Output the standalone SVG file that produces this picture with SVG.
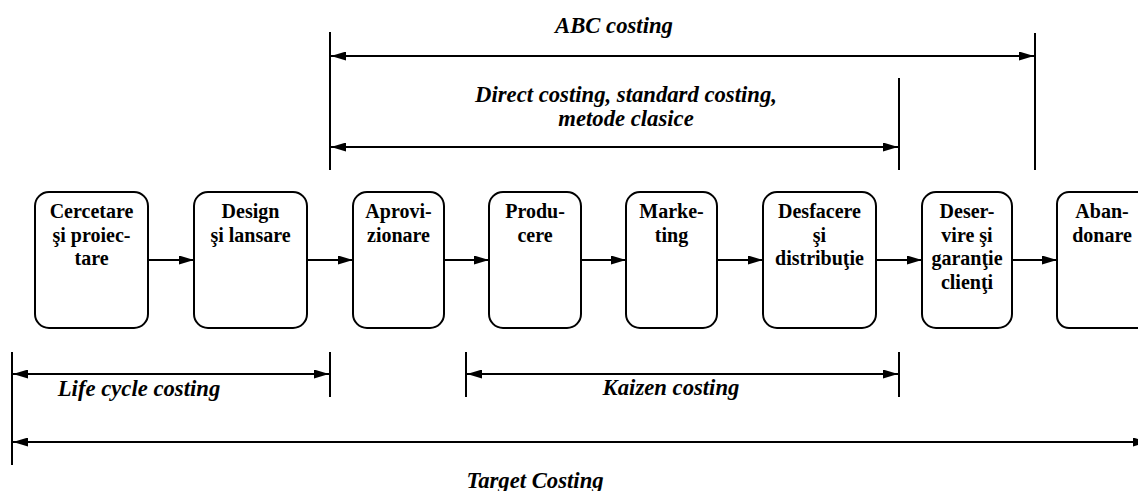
<svg xmlns="http://www.w3.org/2000/svg" width="1138" height="491" viewBox="0 0 1138 491">
<style>
.box{fill:#fff;stroke:#000;stroke-width:2}
.bt{font-family:"Liberation Serif","Times New Roman",serif;font-weight:bold;font-size:20px;text-anchor:middle;fill:#000}
.lbl{font-family:"Liberation Serif","Times New Roman",serif;font-weight:bold;font-style:italic;font-size:22.7px;text-anchor:middle;fill:#000}
.ln{stroke:#000;stroke-width:2;fill:none}
.ar{stroke:#000;stroke-width:2;fill:none;marker-end:url(#ah)}
.dar{stroke:#000;stroke-width:2;fill:none;marker-end:url(#ah);marker-start:url(#ah)}
</style>
<defs>
<marker id="ah" markerUnits="userSpaceOnUse" markerWidth="15" markerHeight="9" refX="15" refY="4.5" orient="auto-start-reverse">
<path d="M0,0 L15,4.5 L0,9 z" fill="#000"/>
</marker>
</defs>
<rect width="1138" height="491" fill="#fff"/>
<g id="n1"><rect class="box" x="35" y="192" width="113" height="136" rx="14"/>
<text class="bt" x="91.5" y="218">Cercetare</text><text class="bt" x="91.5" y="241.5">şi proiec-</text><text class="bt" x="91.5" y="265">tare</text></g>
<g id="n2"><rect class="box" x="194" y="192" width="113" height="136" rx="14"/>
<text class="bt" x="250.5" y="218">Design</text><text class="bt" x="250.5" y="241.5">şi lansare</text></g>
<g id="n3"><rect class="box" x="353" y="192" width="91" height="136" rx="14"/>
<text class="bt" x="398.5" y="218">Aprovi-</text><text class="bt" x="398.5" y="241.5">zionare</text></g>
<g id="n4"><rect class="box" x="489" y="192" width="92" height="136" rx="14"/>
<text class="bt" x="535" y="218">Produ-</text><text class="bt" x="535" y="241.5">cere</text></g>
<g id="n5"><rect class="box" x="626" y="192" width="91" height="136" rx="14"/>
<text class="bt" x="671.5" y="218">Marke-</text><text class="bt" x="671.5" y="241.5">ting</text></g>
<g id="n6"><rect class="box" x="763" y="192" width="113" height="136" rx="14"/>
<text class="bt" x="819.5" y="218">Desfacere</text><text class="bt" x="819.5" y="241.5">şi</text><text class="bt" x="819.5" y="265">distribuţie</text></g>
<g id="n7"><rect class="box" x="922" y="192" width="90" height="136" rx="14"/>
<text class="bt" x="967" y="218">Deser-</text><text class="bt" x="967" y="241.5">vire şi</text><text class="bt" x="967" y="265">garanţie</text><text class="bt" x="967" y="288.5">clienţi</text></g>
<g id="n8"><rect class="box" x="1057" y="192" width="92" height="136" rx="12"/>
<text class="bt" x="1102" y="218">Aban-</text><text class="bt" x="1102" y="241.5">donare</text></g>
<g id="connectors">
<line class="ar" x1="148" y1="260" x2="194" y2="260"/>
<line class="ar" x1="307" y1="260" x2="353" y2="260"/>
<line class="ar" x1="444" y1="260" x2="489" y2="260"/>
<line class="ar" x1="581" y1="260" x2="626" y2="260"/>
<line class="ar" x1="717" y1="260" x2="763" y2="260"/>
<line class="ar" x1="876" y1="260" x2="922" y2="260"/>
<line class="ar" x1="1012" y1="260" x2="1057" y2="260"/>
</g>
<g id="spans">
<line class="ln" x1="330" y1="32" x2="330" y2="170"/>
<line class="ln" x1="1035" y1="33" x2="1035" y2="170"/>
<line class="ln" x1="899" y1="78" x2="899" y2="170"/>
<line class="dar" x1="331" y1="56" x2="1034" y2="56"/>
<line class="dar" x1="331" y1="147" x2="898" y2="147"/>
<line class="ln" x1="12" y1="352" x2="12" y2="465"/>
<line class="ln" x1="330" y1="352" x2="330" y2="397"/>
<line class="ln" x1="466" y1="352" x2="466" y2="397"/>
<line class="ln" x1="899" y1="352" x2="899" y2="397"/>
<line class="dar" x1="13" y1="374" x2="329" y2="374"/>
<line class="dar" x1="467" y1="374" x2="898" y2="374"/>
<line class="dar" x1="13" y1="442" x2="1148" y2="442"/>
<text class="lbl" x="614" y="33">ABC costing</text>
<text class="lbl" x="626" y="102">Direct costing, standard costing,</text>
<text class="lbl" x="626" y="126">metode clasice</text>
<text class="lbl" x="139" y="396">Life cycle costing</text>
<text class="lbl" x="671" y="395">Kaizen costing</text>
<text class="lbl" x="535" y="488">Target Costing</text>
</g>
</svg>
